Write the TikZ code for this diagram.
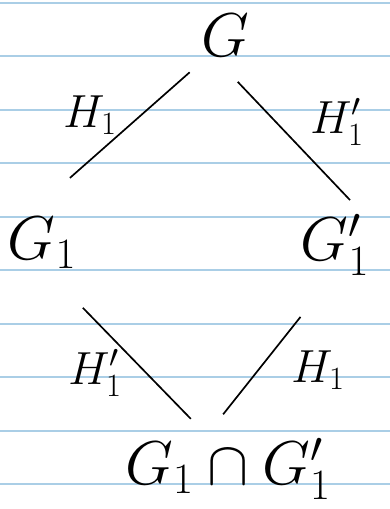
\documentclass[tikz,border=0pt]{standalone}
\usepackage{fix-cm}
\definecolor{ruleblue}{RGB}{170,206,230}
\begin{document}
\begin{tikzpicture}[x=0.025cm, y=-0.025cm,
  obj/.style={inner sep=0pt, font=\fontsize{44}{50}\selectfont},
  lbl/.style={inner sep=0pt, font=\fontsize{33}{38}\selectfont},
  ruled/.style={draw=ruleblue, line width=1.2pt},
  link/.style={line width=1.2pt}]
\useasboundingbox (0, 0) rectangle (390, 509);
\foreach \k in {0,...,9} \draw[ruled] (0, 2.7+53.5*\k) -- (390, 2.7+53.5*\k);
\node[obj] (G) at (225, 35) {$G$};
\node[obj] (G1) at (42, 243) {$G_1$};
\node[obj] (G1p) at (335, 245) {$G_1^{\prime}$};
\node[obj] (Gcap) at (228, 469) {$G_1\cap G_1^{\prime}$};
\node[lbl] (hTL) at (90, 115) {$H_1$};
\node[lbl] (hTR) at (337, 122) {$H_1^{\prime}$};
\node[lbl] (hBL) at (95, 373) {$H_1^{\prime}$};
\node[lbl] (hBR) at (318, 370) {$H_1$};
\draw[link, shorten <=0.6cm, shorten >=1.475cm] (G.231) -- (G1.122);
\draw[link, shorten <=0.875cm, shorten >=0.475cm] (G.242) -- (G1p.48);
\draw[link, shorten <=1.35cm, shorten >=0.66cm] (G1.277) -- (Gcap.121);
\draw[link, shorten <=1.3cm, shorten >=0.75cm] (G1p.266) -- (Gcap.127);
\end{tikzpicture}
\end{document}
